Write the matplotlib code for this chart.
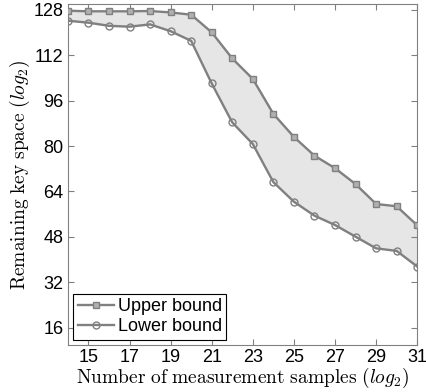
import numpy as np
import matplotlib
matplotlib.use("Agg")
import matplotlib.pyplot as plt

plt.rcParams['font.family'] = ['Liberation Sans', 'DejaVu Sans']
plt.rcParams['mathtext.fontset'] = 'cm'

samples = np.arange(14, 32)
upper = [127.6, 127.4, 127.4, 127.4, 127.5, 127.0, 126.2, 120.0, 110.8, 103.6,
         91.3, 83.2, 76.6, 72.2, 66.6, 59.6, 58.8, 52.1]
lower = [124.1, 123.4, 122.3, 122.0, 122.8, 120.4, 117.0, 102.0, 88.3, 80.7,
         67.3, 60.4, 55.5, 52.2, 48.1, 44.0, 43.1, 37.6]
xticks = np.arange(15, 32, 2)
yticks = np.arange(16, 129, 16)

fig = plt.figure(figsize=(4.27, 3.92), dpi=100)
ax = fig.add_axes([0.159, 0.12, 0.818, 0.870])

line_c = '#808080'
ax.fill_between(samples, lower, upper, color='#e6e6e6', zorder=1)
ax.plot(samples, upper, '-s', color=line_c, lw=1.7, ms=4.5,
        mfc='#b0b0b0', mec=line_c, mew=1.0, label='Upper bound', zorder=3)
ax.plot(samples, lower, '-o', color=line_c, lw=1.7, ms=5,
        mfc='none', mec=line_c, mew=1.0, label='Lower bound', zorder=3)

ax.set_xlim(14, 31)
ax.set_ylim(10, 130)
ax.set_xticks(xticks)
ax.set_yticks(yticks)
ax.tick_params(direction='in', top=True, right=True, color=line_c,
               labelsize=13, length=4, pad=3)
for s in ax.spines.values():
    s.set_color(line_c)

ax.set_xlabel(r'$\mathrm{Number\ of\ measurement\ samples}\ (log_2)$',
              fontsize=14, labelpad=0)
ax.set_ylabel(r'$\mathrm{Remaining\ key\ space}\ (log_2)$',
              fontsize=14, labelpad=1)

leg = ax.legend(loc='lower left', fontsize=13, fancybox=False,
                edgecolor='black', framealpha=1, borderpad=0.25,
                handlelength=2.0, handletextpad=0.2, labelspacing=0.15,
                borderaxespad=0.3)
leg.get_frame().set_linewidth(0.8)

fig.savefig('out.png', dpi=100)
